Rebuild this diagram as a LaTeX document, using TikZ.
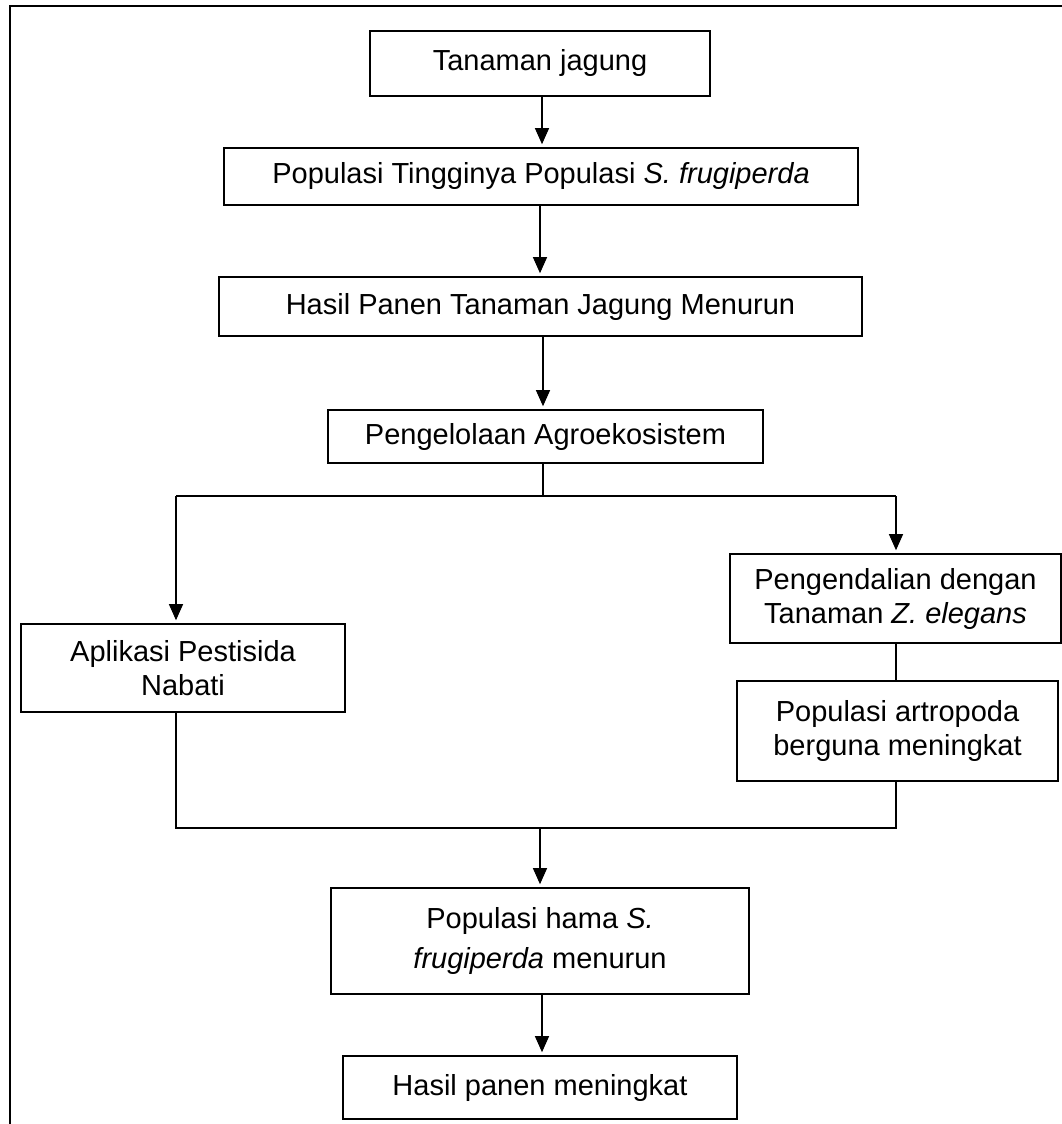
\documentclass[tikz,border=0pt]{standalone}
\usepackage{fontspec}
\setmainfont{Liberation Sans}
\usetikzlibrary{arrows.meta}
\begin{document}
\begin{tikzpicture}[x=1pt,y=-1pt,
  box/.style={draw,line width=1.6pt,rectangle,inner sep=0pt,align=center,
    font=\fontsize{29}{34}\selectfont},
  conn/.style={line width=1.1pt},
  arr/.style={conn,-{Triangle[length=16pt,width=14pt]},shorten >=3pt}]
\useasboundingbox (0,0) rectangle (1062,1124);
% outer frame (top and left only)
\draw[line width=2pt] (10,1124) -- (10,6) -- (1062,6);
% boxes
\node[box,minimum width=340pt,minimum height=65pt] (A) at (540,63.5) {Tanaman jagung};
\node[box,minimum width=634pt,minimum height=57pt] (B) at (541,176.5) {Populasi Tingginya Populasi \textit{S. frugiperda}};
\node[box,minimum width=643pt,minimum height=59pt] (C) at (540.5,306.5) {Hasil Panen Tanaman Jagung Menurun};
\node[box,minimum width=435pt,minimum height=53pt] (D) at (545.5,436.5) {Pengelolaan Agroekosistem};
\node[box,minimum width=324pt,minimum height=88pt] (E) at (183,668) {Aplikasi Pestisida\\Nabati};
\node[box,minimum width=331pt,minimum height=89pt] (F) at (895.5,598.5) {Pengendalian dengan\\Tanaman \textit{Z. elegans}};
\node[box,minimum width=321pt,minimum height=100pt] (G) at (897.5,731) {Populasi artropoda\\berguna meningkat};
\node[box,minimum width=418pt,minimum height=106pt,font=\fontsize{29}{40}\selectfont] (H) at (540,941) {Populasi hama \textit{S.}\\\textit{frugiperda} menurun};
\node[box,minimum width=394pt,minimum height=63pt] (I) at (540,1087.5) {Hasil panen meningkat};
% junction coordinates
\coordinate (s1) at (542,96);
\coordinate (s2) at (540,205);
\coordinate (s3) at (543,336);
\coordinate (s4) at (543,463);
\coordinate (j1) at (543,496);
\coordinate (jl) at (176,496);
\coordinate (jr) at (896,496);
\coordinate (el) at (176,712);
\coordinate (gr) at (896,781);
\coordinate (kl) at (176,828);
\coordinate (kr) at (896,828);
\coordinate (k1) at (540,828);
\coordinate (s5) at (542,994);
% connectors
\draw[arr] (s1) -- (s1 |- B.north);
\draw[arr] (s2) -- (s2 |- C.north);
\draw[arr] (s3) -- (s3 |- D.north);
\draw[conn] (s4) -- (j1);
\draw[conn] (jl) -- (jr);
\draw[arr] (jl) -- (jl |- E.north);
\draw[arr] (jr) -- (jr |- F.north);
\draw[conn] (jr |- F.south) -- (jr |- G.north);
\draw[conn] (el) -- (kl) -- (kr) -- (gr);
\draw[arr] (k1) -- (k1 |- H.north);
\draw[arr] (s5) -- (s5 |- I.north);
\end{tikzpicture}
\end{document}
